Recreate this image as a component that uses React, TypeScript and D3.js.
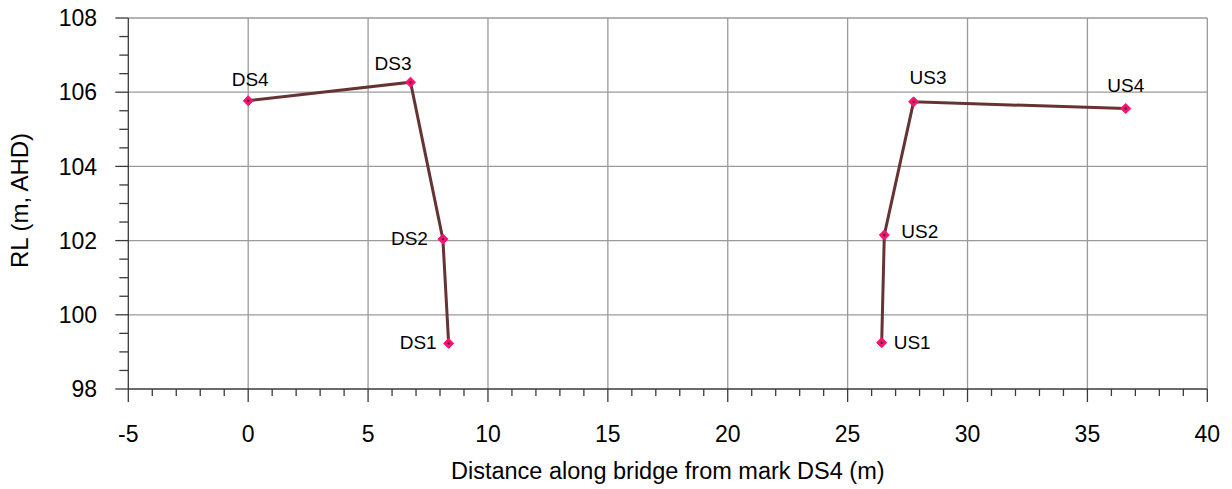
import React from "react";
import * as d3 from "d3";

const dsNames = ["DS4", "DS3", "DS2", "DS1"];
const dsDistance = [0, 6.77, 8.12, 8.36];
const dsRL = [105.77, 106.27, 102.04, 99.23];

const usNames = ["US1", "US2", "US3", "US4"];
const usDistance = [26.42, 26.53, 27.75, 36.6];
const usRL = [99.25, 102.15, 105.74, 105.56];

const xTicks = [-5, 0, 5, 10, 15, 20, 25, 30, 35, 40];
const yTicks = [98, 100, 102, 104, 106, 108];

// label placement styles: [anchor, dx, dy]
const labelStyle: Record<string, [string, number, number]> = {
  DS4: ["middle", 2, -15],
  DS3: ["end", 1, -12],
  DS2: ["end", -15, 6],
  DS1: ["end", -12, 6],
  US1: ["start", 12, 6],
  US2: ["start", 17, 3],
  US3: ["start", -4, -18],
  US4: ["middle", 0, -17],
};

const W = 1232;
const H = 489;
const M = { left: 128.3, right: 1207.3, top: 18, bottom: 389 };
const FONT = "'Liberation Sans', Arial, sans-serif";

export default function App() {
  const x = d3.scaleLinear().domain([-5, 40]).range([M.left, M.right]);
  const y = d3.scaleLinear().domain([98, 108]).range([M.bottom, M.top]);

  const ds = dsNames.map((n, i) => ({ name: n, x: dsDistance[i], y: dsRL[i] }));
  const us = usNames.map((n, i) => ({ name: n, x: usDistance[i], y: usRL[i] }));
  const line = d3
    .line<{ x: number; y: number }>()
    .x((d) => x(d.x))
    .y((d) => y(d.y));

  const xMinor = d3.range(-5, 40.001, 1).filter((v) => !xTicks.includes(v));
  const yMinor = d3.range(98, 108.001, 0.5).filter((v) => !yTicks.includes(v));

  const gridColor = "#9a9a9a";
  const axisColor = "#3a3a3a";
  const lineColor = "#663333";
  const markColor = "#ff1170";

  const all = [...ds, ...us];
  const diamond = d3.symbol().type(d3.symbolDiamond2).size(64)();

  return (
    <svg
      width={W}
      height={H}
      style={{ position: "absolute", left: 0, top: 0, background: "#fff" }}
      fontFamily={FONT}
    >
      {/* grid */}
      {xTicks.slice(1).map((t) => (
        <line key={"gx" + t} x1={x(t)} x2={x(t)} y1={M.top} y2={M.bottom} stroke={gridColor} strokeWidth={1.3} />
      ))}
      {yTicks.slice(1).map((t) => (
        <line key={"gy" + t} x1={M.left} x2={M.right} y1={y(t)} y2={y(t)} stroke={gridColor} strokeWidth={1.3} />
      ))}
      {/* axes */}
      <line x1={M.left} x2={M.left} y1={M.top} y2={M.bottom} stroke={axisColor} strokeWidth={1.3} />
      <line x1={M.left} x2={M.right} y1={M.bottom} y2={M.bottom} stroke={axisColor} strokeWidth={1.3} />
      {yTicks.map((t) => (
        <g key={"yt" + t}>
          <line x1={M.left - 13} x2={M.left} y1={y(t)} y2={y(t)} stroke={axisColor} strokeWidth={1.3} />
          <text x={97} y={y(t)} dy="0.36em" textAnchor="end" fontSize={23} fill="#000">
            {t}
          </text>
        </g>
      ))}
      {yMinor.map((t) => (
        <line key={"ym" + t} x1={M.left - 9} x2={M.left} y1={y(t)} y2={y(t)} stroke={axisColor} strokeWidth={1.3} />
      ))}
      {xTicks.map((t) => (
        <g key={"xt" + t}>
          <line x1={x(t)} x2={x(t)} y1={M.bottom} y2={M.bottom + 13} stroke={axisColor} strokeWidth={1.3} />
          <text x={x(t)} y={442} textAnchor="middle" fontSize={23} fill="#000">
            {t}
          </text>
        </g>
      ))}
      {xMinor.map((t) => (
        <line key={"xm" + t} x1={x(t)} x2={x(t)} y1={M.bottom} y2={M.bottom + 7} stroke={axisColor} strokeWidth={1.3} />
      ))}
      {/* axis titles */}
      <text x={(M.left + M.right) / 2} y={479} textAnchor="middle" fontSize={23.5} fill="#000">
        Distance along bridge from mark DS4 (m)
      </text>
      <text
        transform={`translate(28,200.5) rotate(-90)`}
        textAnchor="middle"
        fontSize={24}
        fill="#000"
      >
        RL (m, AHD)
      </text>
      {/* series */}
      <path d={line(ds) || ""} fill="none" stroke={lineColor} strokeWidth={3} />
      <path d={line(us) || ""} fill="none" stroke={lineColor} strokeWidth={3} />
      {all.map((p) => (
        <g key={"m" + p.name} transform={`translate(${x(p.x)},${y(p.y)})`}>
          <path d={diamond || ""} fill={markColor} stroke={markColor} strokeWidth={1} />
          <circle r={1.2} fill="#333" />
        </g>
      ))}
      {all.map((p) => {
        const [anchor, dx, dy] = labelStyle[p.name];
        return (
          <text
            key={"l" + p.name}
            x={x(p.x) + dx}
            y={y(p.y) + dy}
            textAnchor={anchor as any}
            fontSize={19}
            fill="#000"
          >
            {p.name}
          </text>
        );
      })}
    </svg>
  );
}
